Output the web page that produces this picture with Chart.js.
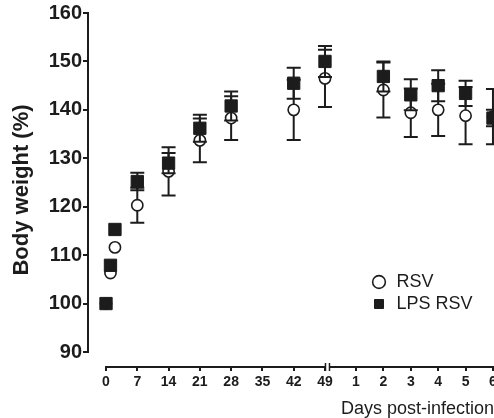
<!DOCTYPE html>
<html>
<head>
<meta charset="utf-8">
<script src="https://cdn.jsdelivr.net/npm/chart.js@4"></script>
<style>
  html, body { margin: 0; padding: 0; background: #ffffff; }
  #wrap { width: 494px; height: 418px; position: relative; }
</style>
</head>
<body>
<div id="wrap"><canvas id="c"></canvas></div>
<script>
// ---- Data ----
const preDays   = [0, 1, 2, 7, 14, 21, 28, 42, 49];          // days of age before infection
const postDays  = [2, 3, 4, 5, 6];                           // days post-infection
const rsvPre     = [100, 106.3, 111.6, 120.3, 127.3, 133.7, 138.3, 140.0, 146.5];
const rsvPreErr  = [0, 0, 0, 3.6, 5.0, 4.5, 4.5, 6.2, 5.9];
const rsvPost    = [144.1, 139.4, 140.0, 138.8, 138.6];
const rsvPostErr = [5.7, 5.0, 5.4, 5.9, 5.7];
const lpsPre     = [100, 107.9, 115.3, 125.2, 129.0, 136.2, 140.8, 145.5, 150.0];
const lpsPreErr  = [0, 0, 0, 1.8, 2.1, 2.8, 3.0, 3.2, 3.2];
const lpsPost    = [146.9, 143.1, 145.0, 143.4, 138.3];
const lpsPostErr = [3.1, 3.2, 3.2, 2.6, 1.7];
const preTicks   = [0, 7, 14, 21, 28, 35, 42, 49];
const postTicks  = [1, 2, 3, 4, 5, 6];
const yTicks     = [90, 100, 110, 120, 130, 140, 150, 160];
const seriesNames = ['RSV', 'LPS RSV'];

// ---- Broken x axis: two segments on one linear scale ----
const BREAK_GAP = 6.94;   // axis units between day 49 and post-infection day 1
const POST_STEP = 6.13;   // axis units per post-infection day
const posPre  = d => d;
const posPost = p => 49 + BREAK_GAP + (p - 1) * POST_STEP;

const INK = '#1c1c1c';
const FONT = "'Liberation Sans', Arial, Helvetica, sans-serif";

function pts(days, vals, fn) { return days.map((d, i) => ({ x: fn(d), y: vals[i] })); }

const rsvData = pts(preDays, rsvPre, posPre).concat(pts(postDays, rsvPost, posPost));
const lpsData = pts(preDays, lpsPre, posPre).concat(pts(postDays, lpsPost, posPost));
const rsvErr = rsvPreErr.concat(rsvPostErr);
const lpsErr = lpsPreErr.concat(lpsPostErr);

const tickPositions = preTicks.map(posPre).concat(postTicks.map(posPost));
const tickLabels = preTicks.map(String).concat(postTicks.map(String));

// error bars drawn just before each dataset's markers
const errorBars = {
  id: 'errorBars',
  beforeDatasetDraw(chart, args) {
    const ds = chart.data.datasets[args.index];
    if (!ds.errors) return;
    const { ctx, scales: { x, y } } = chart;
    ctx.save();
    ctx.strokeStyle = INK;
    ctx.lineWidth = 2;
    ds.data.forEach((p, i) => {
      const e = ds.errors[i];
      if (!e) return;
      const px = x.getPixelForValue(p.x);
      const yTop = y.getPixelForValue(p.y + e);
      const yBot = y.getPixelForValue(p.y - e);
      ctx.beginPath();
      ctx.moveTo(px, yTop); ctx.lineTo(px, yBot);
      ctx.moveTo(px - 7, yTop); ctx.lineTo(px + 7, yTop);
      ctx.moveTo(px - 7, yBot); ctx.lineTo(px + 7, yBot);
      ctx.stroke();
    });
    ctx.restore();
  }
};

// offset axis lines (Prism style) with a break after day 49
const axisLines = {
  id: 'axisLines',
  beforeDatasetsDraw(chart) {
    const { ctx, chartArea, scales: { x, y } } = chart;
    ctx.save();
    ctx.strokeStyle = INK;
    ctx.lineWidth = 2;
    const yx = chartArea.left;
    ctx.beginPath();
    ctx.moveTo(yx, y.getPixelForValue(yTicks[yTicks.length - 1]) - 1);
    ctx.lineTo(yx, y.getPixelForValue(yTicks[0]) + 1);
    ctx.stroke();
    const xy = chartArea.bottom;
    const bx = x.getPixelForValue(posPre(49));
    ctx.beginPath();
    ctx.moveTo(x.getPixelForValue(0) - 1, xy);
    ctx.lineTo(bx + 1, xy);
    ctx.moveTo(bx + 4, xy);
    ctx.lineTo(chartArea.right + 2, xy);
    ctx.stroke();
    ctx.lineWidth = 1.5;
    ctx.beginPath();
    ctx.moveTo(bx + 0.5, xy - 4); ctx.lineTo(bx + 0.5, xy + 4);
    ctx.moveTo(bx + 4.5, xy - 4); ctx.lineTo(bx + 4.5, xy + 4);
    ctx.stroke();
    ctx.restore();
  }
};

// move the legend box into the lower right of the plot
const legendPlace = {
  id: 'legendPlace',
  afterLayout(chart) {
    const lg = chart.legend;
    if (!lg) return;
    lg.left = 366.5; lg.top = 269; lg.right = 494; lg.bottom = 320;
    lg.width = lg.right - lg.left; lg.height = lg.bottom - lg.top;
  }
};

new Chart(document.getElementById('c'), {
  type: 'scatter',
  data: {
    datasets: [
      {
        label: seriesNames[0],
        data: rsvData,
        errors: rsvErr,
        pointStyle: 'circle',
        pointRadius: 5.6,
        pointBorderWidth: 1.6,
        backgroundColor: '#ffffff',
        borderColor: INK,
        borderWidth: 1.6,
        showLine: false,
        order: 1,
        clip: false
      },
      {
        label: seriesNames[1],
        data: lpsData,
        errors: lpsErr,
        pointStyle: 'rect',
        pointRadius: 8.7,
        pointBorderWidth: 1,
        backgroundColor: INK,
        borderColor: INK,
        borderWidth: 1,
        showLine: false,
        order: 0,
        clip: false
      }
    ]
  },
  options: {
    responsive: true,
    maintainAspectRatio: false,
    animation: false,
    events: [],
    layout: { autoPadding: false, padding: { top: 13, right: 0, left: 0, bottom: 0 } },
    plugins: {
      tooltip: { enabled: false },
      legend: {
        position: 'chartArea',
        align: 'start',
        labels: {
          usePointStyle: true,
          boxWidth: 17,
          boxHeight: 9,
          padding: 4,
          color: INK,
          font: { family: FONT, size: 18 },
          sort: (a, b) => a.datasetIndex - b.datasetIndex
        }
      }
    },
    scales: {
      x: {
        type: 'linear',
        min: -4.03,
        max: 86.82,
        afterBuildTicks(scale) { scale.ticks = tickPositions.map(v => ({ value: v })); },
        afterFit(scale) { scale.height = 51; scale.paddingRight = 0; scale.paddingLeft = 0; },
        border: { display: false },
        grid: { display: true, drawOnChartArea: false, drawTicks: true, tickLength: 4, color: INK, lineWidth: 2 },
        ticks: {
          autoSkip: false,
          maxRotation: 0,
          padding: 3,
          color: INK,
          font: { family: FONT, size: 14, weight: 'bold' },
          callback(value, index) { return tickLabels[index]; }
        },
        title: {
          display: true,
          text: 'Days post-infection',
          align: 'end',
          color: INK,
          font: { family: FONT, size: 18, lineHeight: 1 },
          padding: { top: 0, bottom: 0 }
        }
      },
      y: {
        type: 'linear',
        min: 86.9,
        max: 160,
        afterBuildTicks(scale) { scale.ticks = yTicks.map(v => ({ value: v })); },
        afterFit(scale) { scale.width = 88; },
        border: { display: false },
        grid: { display: true, drawOnChartArea: false, drawTicks: true, tickLength: 5, color: INK, lineWidth: 2 },
        ticks: {
          padding: 1,
          color: INK,
          font: { family: FONT, size: 20, weight: 'bold' }
        },
        title: {
          display: true,
          text: 'Body weight (%)',
          color: INK,
          font: { family: FONT, size: 22, weight: 'bold', lineHeight: 1 },
          padding: { top: 11, bottom: 0 }
        }
      }
    }
  },
  plugins: [errorBars, axisLines, legendPlace]
});
</script>
</body>
</html>
